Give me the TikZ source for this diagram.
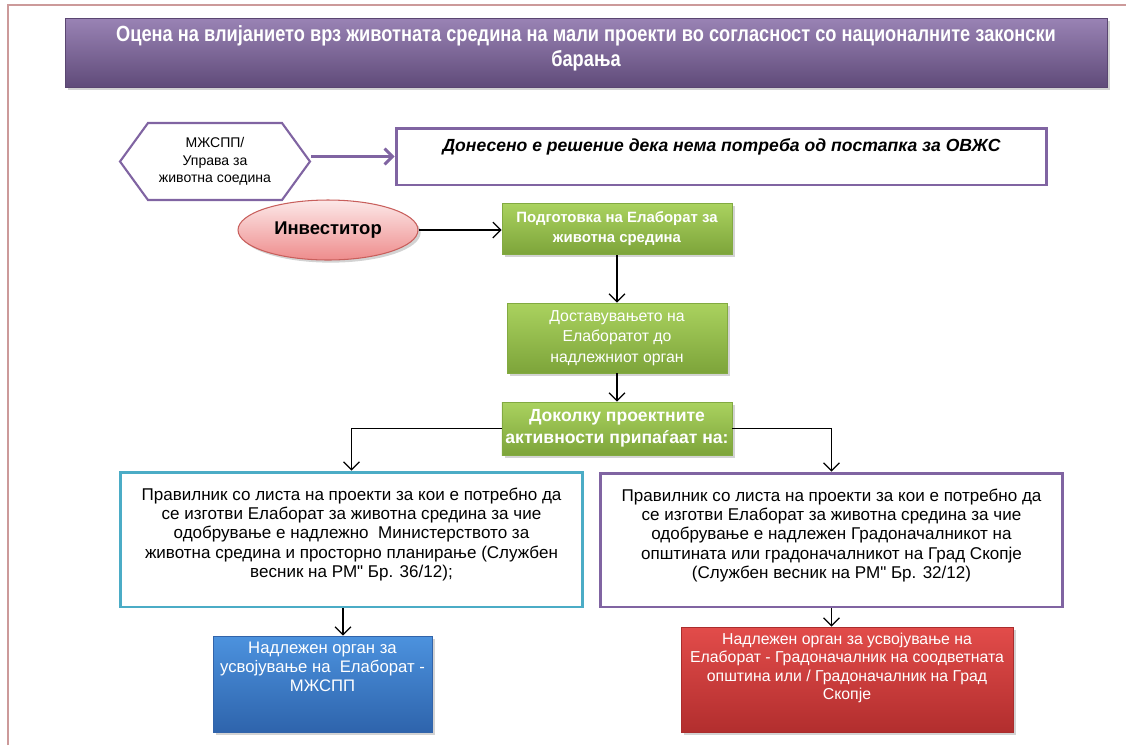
\documentclass[tikz,border=0pt]{standalone}
\usepackage{fontspec}
\setmainfont{Liberation Sans}
\newfontfamily\narrowfont[FakeStretch=0.83]{Liberation Sans}
\newfontfamily\rawfont[Ligatures=TeXOff]{Liberation Sans}
\usetikzlibrary{positioning,calc,arrows.meta,shapes.geometric,shapes.symbols,shadows}
\definecolor{lila}{HTML}{8064A2}
\definecolor{teal1}{HTML}{4BACC6}
\definecolor{rim}{HTML}{CC9A9A}
\definecolor{greentop}{RGB}{170,210,95}
\definecolor{greenbot}{RGB}{125,164,58}
\definecolor{greenrim}{RGB}{130,170,65}
\definecolor{bluetop}{RGB}{76,146,222}
\definecolor{bluebot}{RGB}{46,100,172}
\definecolor{bluerim}{RGB}{50,100,170}
\definecolor{redtop}{RGB}{226,76,74}
\definecolor{redbot}{RGB}{178,46,46}
\definecolor{redrim}{RGB}{170,45,45}
\definecolor{pinktop}{RGB}{252,232,232}
\definecolor{pinkbot}{RGB}{238,140,140}
\definecolor{pinkrim}{RGB}{200,95,92}
\tikzset{>={Straight Barb[length=4.5pt,width=9pt]}}
\tikzset{
  shad/.style={drop shadow={opacity=0.35,shadow xshift=1.5pt,shadow yshift=-1.5pt}},
  titlebox/.style={shad,rectangle,inner sep=0pt,top color=lila!80!white,bottom color=lila!75!black,draw=lila!70!black,line width=0.4pt,text=white},
  greenbox/.style={shad,rectangle,inner sep=2pt,top color=greentop,bottom color=greenbot,draw=greenrim,line width=0.4pt,text=white,align=center},
  listbox/.style={rectangle,fill=white,line width=1.7pt,align=center,inner sep=0pt},
  organbox/.style={shad,rectangle,inner sep=0pt,line width=0.4pt,text=white},
  arr/.style={->,black,line width=0.7pt}
}
\begin{document}
\begin{tikzpicture}[x=0.02cm,y=-0.02cm]
\useasboundingbox (0,0) rectangle (1126,745);
\draw[rim,line width=0.9pt] (8,745) -- (8,5) -- (1126,5);

\node[titlebox,minimum width=20.84cm,minimum height=1.38cm] (naslov) at (586,52.5)
  {\parbox[c][1.3cm][t]{20.6cm}{\centering\vspace{3pt}\narrowfont\bfseries\fontsize{12.5}{14.2}\selectfont
  Оцена на влијанието врз животната средина на мали проекти во согласност со националните законски\\барања}};

\node[signal,signal to=west and east,signal pointer angle=108,draw=lila,line width=1.2pt,fill=white,
  minimum width=3.8cm,minimum height=1.54cm,inner sep=0pt,align=center,font=\fontsize{8}{10}\selectfont] (mzh) at (215,161.5)
  {МЖСПП/\\Управа за\\животна соедина};

\node[listbox,draw=lila,minimum width=13.02cm,minimum height=1.14cm] (odluka) at (721.5,156.5)
  {\parbox[c][1.08cm][t]{12.9cm}{\centering\vspace{5pt}\bfseries\itshape\fontsize{10}{12}\selectfont
  Донесено е решение дека нема потреба од постапка за ОВЖС}};

\node[ellipse,shad,minimum width=3.6cm,minimum height=1.2cm,top color=pinktop,bottom color=pinkbot,
  draw=pinkrim,line width=0.6pt,font=\bfseries\fontsize{10.5}{12}\selectfont] (inv) at (328,230) {Инвеститор};

\node[greenbox,minimum width=4.6cm,minimum height=1.02cm,font=\bfseries\fontsize{8.5}{11.4}\selectfont] (g1) at (617,229)
  {Подготовка на Елаборат за\\животна средина};
\node[greenbox,minimum width=4.4cm,minimum height=1.4cm,font=\fontsize{9}{11.7}\selectfont] (g2) at (617,338)
  {Доставувањето на\\Елаборатот до\\надлежниот орган};
\node[greenbox,minimum width=4.54cm,minimum height=1.06cm,font=\bfseries\fontsize{10}{12.3}\selectfont] (g3) at (617,428.5)
  {Доколку проектните\\активности припаѓаат на:};

\node[listbox,draw=teal1,minimum width=9.26cm,minimum height=2.7cm] (lista1) at (351.5,539.5)
  {\parbox[c][2.64cm][t]{9.1cm}{\centering\vspace{8pt}\fontsize{9.7}{11}\selectfont
  Правилник со листа на проекти за кои е потребно да\\се изготви Елаборат за животна средина за чие\\одобрување е надлежно\ \ Министерството за\\животна средина и просторно планирање (Службен\\весник на РМ{\rawfont"} Бр. 36/12);}};
\node[listbox,draw=lila,minimum width=9.26cm,minimum height=2.68cm] (lista2) at (831.5,540)
  {\parbox[c][2.62cm][t]{9.1cm}{\centering\vspace{8pt}\fontsize{9.7}{11}\selectfont
  Правилник со листа на проекти за кои е потребно да\\се изготви Елаборат за животна средина за чие\\одобрување е надлежен Градоначалникот на\\општината или градоначалникот на Град Скопје\\(Службен весник на РМ{\rawfont"} Бр. 32/12)}};

\node[organbox,minimum width=4.38cm,minimum height=1.92cm,top color=bluetop,bottom color=bluebot,draw=bluerim] (organ1) at (322.5,684)
  {\parbox[c][1.9cm][t]{4.3cm}{\centering\vspace{3pt}\fontsize{9.5}{10.8}\selectfont
  Надлежен орган за\\усвојување на\ \ Елаборат -\\МЖСПП}};
\node[organbox,minimum width=6.64cm,minimum height=2.1cm,top color=redtop,bottom color=redbot,draw=redrim] (organ2) at (847,679.5)
  {\parbox[c][2.08cm][t]{6.5cm}{\centering\vspace{3pt}\fontsize{9}{10.5}\selectfont
  Надлежен орган за усвојување на\\Елаборат - Градоначалник на соодветната\\општина или / Градоначалник на Град\\Скопје}};

\draw[->,lila,line width=1.7pt] (mzh.east |- odluka.west) -- (odluka.west);
\draw[arr] (inv.east) -- (inv.east -| g1.west);
\draw[arr] (g1.south) -- (g2.north);
\draw[arr] (g2.south) -- (g3.north);
\draw[arr] (g3.west) -| (lista1.north);
\draw[arr] (g3.east) -| (lista2.north);
\draw[arr] ([xshift=-0.17cm]lista1.south) -- ([xshift=-0.17cm]lista1.south |- organ1.north);
\draw[arr] (lista2.south) -- (lista2.south |- organ2.north);
\end{tikzpicture}
\end{document}
